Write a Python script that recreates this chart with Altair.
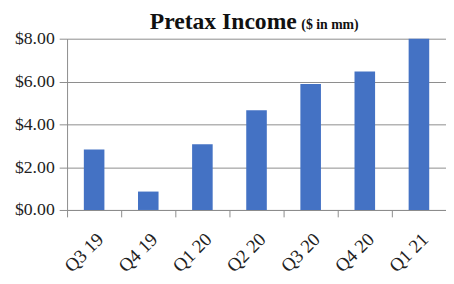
import altair as alt
import pandas as pd

quarters = ["Q3 19", "Q4 19", "Q1 20", "Q2 20", "Q3 20", "Q4 20", "Q1 21"]
income = [2.83, 0.86, 3.07, 4.66, 5.88, 6.47, 8.0]
y_ticks = [0, 2, 4, 6, 8]
title_main = "Pretax Income"
title_unit = "($ in mm)"

df = pd.DataFrame({"quarter": quarters, "income": income})

serif = "Liberation Serif"
grey = "#8c8c8c"

bars = alt.Chart(df).mark_bar(
    color="#4472C4", width=alt.RelativeBandSize(0.38)
).encode(
    x=alt.X(
        "quarter:N",
        sort=quarters,
        scale=alt.Scale(paddingInner=0, paddingOuter=0),
        axis=alt.Axis(
            title=None,
            labelAngle=-45,
            bandPosition=0,
            labelOffset=0,
            labelFont=serif,
            labelFontSize=19,
            labelColor="#222222",
            labelPadding=13,
            tickSize=7,
            tickColor=grey,
            domainColor=grey,
            grid=False,
        ),
    ),
    y=alt.Y(
        "income:Q",
        scale=alt.Scale(domain=[0, 8], nice=False),
        axis=alt.Axis(
            title=None,
            values=y_ticks,
            format="$.2f",
            labelFont=serif,
            labelFontSize=18,
            labelColor="#222222",
            labelPadding=5,
            tickSize=8,
            tickColor=grey,
            domainColor=grey,
            gridColor=grey,
            gridOpacity=1,
        ),
    ),
)

main = alt.Chart(pd.DataFrame({"t": [title_main]})).mark_text(
    font=serif, fontSize=24, fontWeight="bold", align="left", baseline="alphabetic", color="#111111"
).encode(text="t:N", x=alt.value(84), y=alt.value(-10))

unit = alt.Chart(pd.DataFrame({"t": [title_unit]})).mark_text(
    font=serif, fontSize=14, fontWeight="bold", align="left", baseline="alphabetic", color="#111111"
).encode(text="t:N", x=alt.value(238), y=alt.value(-10))

chart = alt.layer(bars, main, unit).properties(
    width=385,
    height=174,
    autosize=alt.AutoSizeParams(type="none"),
    padding={"left": 60, "top": 29, "right": 0, "bottom": 72},
).configure_view(stroke=None)

chart.save("out.html", embed_options={"renderer": "svg", "actions": False})
